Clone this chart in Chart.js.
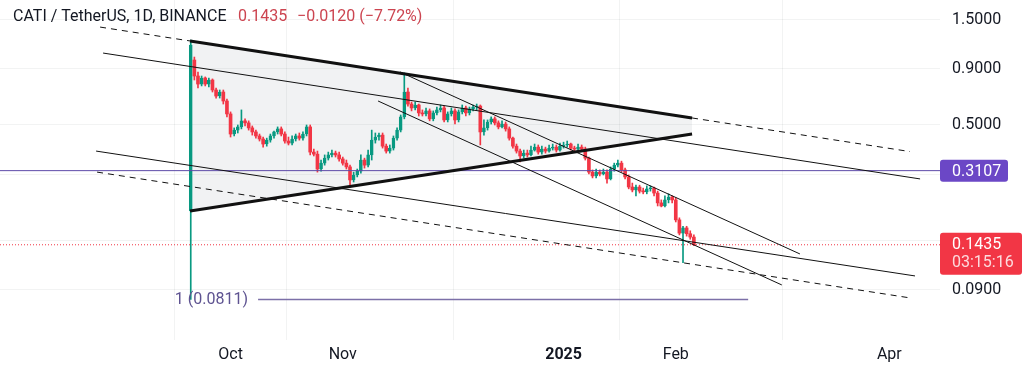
<!DOCTYPE html>
<html>
<head>
<meta charset="utf-8">
<script src="https://cdn.jsdelivr.net/npm/chart.js@4.4.1/dist/chart.umd.min.js"></script>
<style>
  html, body { margin: 0; padding: 0; background: #fff; }
  #wrap { width: 1024px; height: 368px; }
</style>
</head>
<body>
<div id="wrap"><canvas id="myChart" width="1024" height="368"></canvas></div>
<script>
// CATI / TetherUS daily candles, first one is the listing day (Sep 20 2024)
// x values are days counted from Oct 1 2024
const firstDay = -11;

const opens = [
  0.204, 0.984, 0.833, 0.766, 0.816, 0.766, 0.799, 0.720, 0.676, 0.705, 0.642,
  0.561, 0.455, 0.474, 0.490, 0.522, 0.511, 0.485, 0.465, 0.446, 0.432,
  0.410, 0.427, 0.446, 0.465, 0.480, 0.455, 0.423, 0.414, 0.432, 0.446,
  0.436, 0.455, 0.490, 0.377, 0.369, 0.316, 0.336, 0.354, 0.366, 0.373,
  0.366, 0.351, 0.336, 0.323, 0.282, 0.297, 0.309, 0.347, 0.329, 0.366,
  0.427, 0.441, 0.450, 0.401, 0.381, 0.393, 0.436, 0.474, 0.544, 0.705,
  0.622, 0.597, 0.616, 0.567, 0.561, 0.579, 0.533, 0.567, 0.585, 0.597,
  0.527, 0.561, 0.579, 0.527, 0.573, 0.597, 0.567, 0.591, 0.603, 0.609,
  0.465, 0.485, 0.516, 0.533, 0.511, 0.490, 0.505, 0.480, 0.436, 0.401,
  0.381, 0.362, 0.373, 0.366, 0.385, 0.397, 0.377, 0.389, 0.381, 0.393,
  0.397, 0.385, 0.401, 0.406, 0.410, 0.393, 0.389, 0.397, 0.389, 0.354,
  0.306, 0.294, 0.306, 0.300, 0.306, 0.285, 0.316, 0.329, 0.336, 0.313,
  0.291, 0.262, 0.254, 0.262, 0.251, 0.249, 0.257, 0.259, 0.246, 0.222,
  0.215, 0.229, 0.236, 0.229, 0.186, 0.162, 0.171, 0.161, 0.1555
];
const highs = [
  1.212, 1.015, 0.868, 0.833, 0.825, 0.816, 0.808, 0.735, 0.720, 0.720, 0.655,
  0.573, 0.485, 0.500, 0.585, 0.533, 0.522, 0.495, 0.474, 0.455, 0.441,
  0.436, 0.455, 0.469, 0.490, 0.490, 0.465, 0.441, 0.446, 0.455, 0.460,
  0.465, 0.500, 0.500, 0.389, 0.381, 0.347, 0.366, 0.377, 0.385, 0.381,
  0.377, 0.358, 0.347, 0.329, 0.306, 0.316, 0.366, 0.354, 0.385, 0.474,
  0.460, 0.460, 0.460, 0.410, 0.406, 0.446, 0.485, 0.555, 0.860, 0.735,
  0.635, 0.635, 0.622, 0.585, 0.597, 0.591, 0.579, 0.603, 0.616, 0.609,
  0.573, 0.597, 0.591, 0.585, 0.616, 0.609, 0.603, 0.616, 0.622, 0.616,
  0.527, 0.527, 0.544, 0.544, 0.522, 0.522, 0.516, 0.490, 0.441, 0.410,
  0.389, 0.385, 0.385, 0.401, 0.410, 0.406, 0.401, 0.397, 0.406, 0.410,
  0.406, 0.414, 0.418, 0.423, 0.414, 0.401, 0.410, 0.406, 0.397, 0.358,
  0.313, 0.316, 0.313, 0.316, 0.313, 0.323, 0.336, 0.347, 0.343, 0.319,
  0.297, 0.273, 0.267, 0.267, 0.259, 0.265, 0.265, 0.262, 0.251, 0.229,
  0.239, 0.244, 0.239, 0.234, 0.190, 0.174, 0.174, 0.166, 0.159
];
const lows = [
  0.0811, 0.799, 0.735, 0.751, 0.751, 0.743, 0.705, 0.662, 0.662, 0.622, 0.544,
  0.441, 0.446, 0.460, 0.480, 0.495, 0.474, 0.450, 0.436, 0.423, 0.397,
  0.401, 0.418, 0.436, 0.455, 0.446, 0.414, 0.406, 0.406, 0.423, 0.427,
  0.427, 0.446, 0.366, 0.362, 0.306, 0.309, 0.329, 0.347, 0.358, 0.358,
  0.343, 0.329, 0.316, 0.262, 0.276, 0.291, 0.303, 0.319, 0.323, 0.347,
  0.414, 0.427, 0.393, 0.373, 0.373, 0.385, 0.427, 0.465, 0.533, 0.609,
  0.579, 0.585, 0.549, 0.549, 0.549, 0.522, 0.522, 0.555, 0.573, 0.516,
  0.516, 0.549, 0.505, 0.516, 0.561, 0.549, 0.555, 0.579, 0.585, 0.406,
  0.450, 0.474, 0.505, 0.500, 0.480, 0.485, 0.469, 0.427, 0.393, 0.373,
  0.340, 0.354, 0.358, 0.362, 0.381, 0.369, 0.369, 0.373, 0.377, 0.385,
  0.377, 0.381, 0.393, 0.397, 0.385, 0.381, 0.385, 0.381, 0.347, 0.300,
  0.288, 0.288, 0.294, 0.297, 0.273, 0.282, 0.309, 0.323, 0.306, 0.285,
  0.257, 0.249, 0.239, 0.246, 0.244, 0.244, 0.251, 0.239, 0.215, 0.213,
  0.213, 0.222, 0.222, 0.182, 0.159, 0.119, 0.157, 0.152, 0.142
];
const closes = [
  1.150, 0.833, 0.766, 0.816, 0.766, 0.799, 0.720, 0.676, 0.705, 0.642, 0.561,
  0.455, 0.474, 0.490, 0.522, 0.511, 0.485, 0.465, 0.446, 0.432, 0.410,
  0.427, 0.446, 0.465, 0.480, 0.455, 0.423, 0.414, 0.432, 0.446, 0.436,
  0.455, 0.490, 0.377, 0.369, 0.316, 0.336, 0.354, 0.366, 0.373, 0.366,
  0.351, 0.336, 0.323, 0.282, 0.297, 0.309, 0.347, 0.329, 0.366, 0.427,
  0.441, 0.450, 0.401, 0.381, 0.393, 0.436, 0.474, 0.544, 0.705, 0.622,
  0.597, 0.616, 0.567, 0.561, 0.579, 0.533, 0.567, 0.585, 0.597, 0.527,
  0.561, 0.579, 0.527, 0.573, 0.597, 0.567, 0.591, 0.603, 0.609, 0.465,
  0.485, 0.516, 0.533, 0.511, 0.490, 0.505, 0.480, 0.436, 0.401, 0.381,
  0.362, 0.373, 0.366, 0.385, 0.397, 0.377, 0.389, 0.381, 0.393, 0.397,
  0.385, 0.401, 0.406, 0.410, 0.393, 0.389, 0.397, 0.389, 0.354, 0.306,
  0.294, 0.306, 0.300, 0.306, 0.285, 0.316, 0.329, 0.336, 0.313, 0.291,
  0.262, 0.254, 0.262, 0.251, 0.249, 0.257, 0.259, 0.246, 0.222, 0.215,
  0.229, 0.236, 0.229, 0.186, 0.162, 0.171, 0.161, 0.1555, 0.1435
];

// axis ticks
const tickDays = [0, 31, 92, 123, 182];
const tickLabels = ["Oct", "Nov", "2025", "Feb", "Apr"];
const priceTicks = [1.5, 0.9, 0.5, 0.3, 0.15, 0.09];
const hiddenPriceTicks = [0.3, 0.15];

// drawings, [day, price]
const topLeftDash = [[-36.05, 1.387], [-11.19, 1.2]];
const topSolid = [[-11.19, 1.2], [127.5, 0.538]];
const topRightDash = [[127.5, 0.538], [187.7, 0.379]];
const bottomSolid = [[-11.19, 0.204], [127.5, 0.455]];
const bottomDash = [[-36.88, 0.306], [187.7, 0.0825]];
const thinLineA = [[-35.22, 1.058], [190.5, 0.285]];
const thinLineB = [[-37.15, 0.381], [189.1, 0.1037]];
const channelTop = [[46.8, 0.869], [157.3, 0.1304]];
const channelBottom = [[40.75, 0.642], [152.3, 0.0944]];

const markedPrice = 0.3107;
const lastPrice = 0.1435;
const lastChange = "\u22120.0120 (\u22127.72%)";
const countdown = "03:15:16";
const fibLevel = 0.0811;
const fibSpan = [7.6, 143.0];

const xMin = -63.7, xMax = 196.0;
const yMin = 0.0532, yMax = 1.839;

const upColor = "#089981";
const downColor = "#f23645";
const ink = "#131722";
const gridColor = "rgba(42,46,57,0.06)";

const days = closes.map((_, i) => firstDay + i);
const isUp = (i) => closes[i] >= opens[i];

const toPts = (arr) => arr.map(([x, y]) => ({ x, y }));
const drawing = (arr, extra) => ({
  type: "line",
  data: toPts(arr),
  borderColor: "#111",
  borderWidth: 1,
  pointRadius: 0,
  fill: false,
  order: 1,
  ...extra,
});

const overlay = {
  id: "overlay",
  afterDraw(chart) {
    const { ctx } = chart;
    const y = chart.scales.y;
    ctx.save();
    ctx.font = "16px Roboto";
    ctx.textBaseline = "middle";
    ctx.textAlign = "left";

    // header
    ctx.fillStyle = ink;
    ctx.fillText("CATI / TetherUS, 1D, BINANCE", 13, 17);
    ctx.fillStyle = "#cc4450";
    ctx.fillText(lastPrice.toFixed(4), 238, 17);
    ctx.fillText(lastChange, 297, 17);

    // fib label
    ctx.fillStyle = "#5e5391";
    ctx.textAlign = "right";
    ctx.fillText("1 (" + fibLevel + ")", 248, y.getPixelForValue(fibLevel));

    // price labels on the axis
    ctx.textAlign = "left";
    const ym = y.getPixelForValue(markedPrice);
    ctx.fillStyle = "#6b47c6";
    ctx.beginPath();
    ctx.roundRect(940, ym - 11, 68, 22, 3);
    ctx.fill();
    ctx.fillStyle = "#fff";
    ctx.fillText(markedPrice.toFixed(4), 952, ym + 1);

    const yl = y.getPixelForValue(lastPrice);
    ctx.fillStyle = downColor;
    ctx.beginPath();
    ctx.roundRect(940, yl - 12, 82, 42, 3);
    ctx.fill();
    ctx.fillStyle = "#fff";
    ctx.fillText(lastPrice.toFixed(4), 952, yl);
    ctx.fillStyle = "rgba(255,255,255,0.82)";
    ctx.fillText(countdown, 952, yl + 18);
    ctx.restore();
  },
};

const config = {
  type: "bar",
  data: {
    datasets: [
      // shaded triangle: top edge filled down to the next dataset
      drawing(topSolid, {
        borderWidth: 3,
        fill: "+1",
        backgroundColor: "rgba(120,123,134,0.1)",
      }),
      drawing(bottomSolid, { borderWidth: 3 }),
      drawing(topLeftDash, { borderDash: [6, 5] }),
      drawing(topRightDash, { borderDash: [6, 5] }),
      drawing(bottomDash, { borderDash: [6, 5] }),
      drawing(thinLineA),
      drawing(thinLineB),
      drawing(channelTop),
      drawing(channelBottom),
      drawing([[xMin, markedPrice], [xMax, markedPrice]], { borderColor: "#5d4aa8" }),
      drawing([[xMin, lastPrice], [xMax, lastPrice]], {
        borderColor: downColor,
        borderDash: [1, 2],
      }),
      drawing([[fibSpan[0], fibLevel], [fibSpan[1], fibLevel]], {
        borderColor: "#7c70a8",
        borderWidth: 1.5,
      }),
      // wicks
      {
        data: days.map((d, i) => ({ x: d, y: [lows[i], highs[i]] })),
        backgroundColor: (c) => (isUp(c.dataIndex) ? upColor : downColor),
        barThickness: 1,
        grouped: false,
        order: 5,
      },
      // bodies (up candles hollow)
      {
        data: days.map((d, i) => ({ x: d, y: [opens[i], closes[i]] })),
        backgroundColor: (c) => (isUp(c.dataIndex) ? "rgba(255,255,255,0)" : downColor),
        borderColor: (c) => (isUp(c.dataIndex) ? upColor : downColor),
        borderWidth: (c) => (isUp(c.dataIndex) ? 1 : 0),
        borderSkipped: false,
        barThickness: 3,
        minBarLength: 1,
        grouped: false,
        order: 4,
      },
    ],
  },
  options: {
    responsive: false,
    animation: false,
    devicePixelRatio: 1,
    layout: { padding: 0 },
    plugins: {
      legend: { display: false },
      tooltip: { enabled: false },
      filler: { drawTime: "beforeDatasetsDraw" },
    },
    scales: {
      x: {
        type: "linear",
        min: xMin,
        max: xMax,
        offset: false,
        afterBuildTicks: (axis) => {
          axis.ticks = tickDays.map((v) => ({ value: v }));
        },
        afterFit: (axis) => {
          axis.height = 28;
          axis.paddingLeft = 0;
          axis.paddingRight = 0;
        },
        ticks: {
          autoSkip: false,
          maxRotation: 0,
          padding: 5,
          color: ink,
          font: (c) => ({
            family: "Roboto",
            size: 16,
            weight: c.tick && c.tick.value === 92 ? "bold" : "normal",
          }),
          callback: (v) => tickLabels[tickDays.indexOf(v)],
        },
        grid: {
          color: (c) =>
            c.tick && tickDays.includes(c.tick.value) ? gridColor : "rgba(0,0,0,0)",
          drawTicks: false,
        },
        border: { display: false },
      },
      y: {
        type: "logarithmic",
        position: "right",
        min: yMin,
        max: yMax,
        afterBuildTicks: (axis) => {
          axis.ticks = priceTicks.map((v) => ({ value: v }));
        },
        afterFit: (axis) => {
          axis.width = 84;
          axis.paddingTop = 0;
          axis.paddingBottom = 0;
        },
        ticks: {
          padding: 12,
          color: ink,
          font: { family: "Roboto", size: 16 },
          callback: (v) => (hiddenPriceTicks.includes(v) ? "" : v.toFixed(4)),
        },
        grid: { color: gridColor, drawTicks: false },
        border: { display: false },
      },
    },
  },
  plugins: [overlay],
};

const myChart = new Chart(document.getElementById("myChart"), config);
</script>
</body>
</html>
